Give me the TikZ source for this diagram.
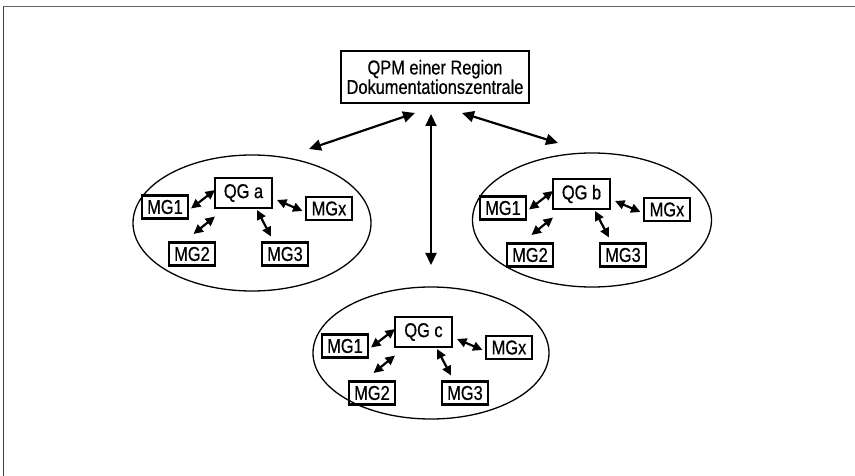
\documentclass[tikz,border=0pt]{standalone}
\usepackage{fontspec}
\setmainfont{Liberation Sans}[FakeStretch=0.82,FakeBold=0.6]
\usetikzlibrary{arrows.meta,shapes.geometric}
\begin{document}
\begin{tikzpicture}[x=1pt,y=-1pt,
  every node/.style={font=\fontsize{20}{19.5}\selectfont},
  topbox/.style={draw, line width=1.4pt, minimum width=188pt, minimum height=52pt, align=center, inner sep=0pt},
  qgbox/.style={draw, line width=2.4pt, minimum width=57pt, minimum height=30pt, inner sep=0pt},
  mgbox/.style={draw, line width=2.4pt, minimum width=46pt, minimum height=23pt, inner sep=0pt},
  group/.style={draw, ellipse, line width=1.3pt, inner sep=0pt},
  bigarrow/.style={line width=2.2pt, {Triangle[length=12pt,width=11pt]}-{Triangle[length=12pt,width=11pt]}},
  smallarrow/.style={line width=2.2pt, {Triangle[length=9.5pt,width=9pt]}-{Triangle[length=9.5pt,width=9pt]}},
  frameline/.style={line width=1.5pt, draw=black!75},
]
\useasboundingbox (0,0) rectangle (855,476);
% page frame (top and left edges only)
\coordinate (fbl) at (3.5,476);
\coordinate (ftl) at (3.5,6.5);
\coordinate (ftr) at (855,6.5);
\draw[frameline] (fbl) -- (ftl);
\draw[frameline, draw=black!60] (ftl) -- (ftr);

% top box
\node[topbox] (top) at (435,77) {QPM einer Region\\Dokumentationszentrale};

% groups
\node[group, minimum width=238pt, minimum height=136pt] (ea) at (252,223) {};
\node[group, minimum width=239pt, minimum height=134pt] (eb) at (592,220) {};
\node[group, minimum width=236pt, minimum height=132pt] (ec) at (431,353) {};

% main arrows
\coordinate (l1) at (415,113);
\coordinate (l2) at (309,149);
\coordinate (m1) at (431,114);
\coordinate (m2) at (431,265);
\coordinate (r1) at (462,113);
\coordinate (r2) at (558,143);
\draw[bigarrow] (l1) -- (l2);
\draw[bigarrow] (m1) -- (m2);
\draw[bigarrow] (r1) -- (r2);

% clusters
\foreach \p/\dx/\dy in {a/0/0, b/338/1, c/180/139}{
  \begin{scope}[shift={(\dx,\dy)}]
    \node[qgbox] (q\p) at (243.5,193) {QG \p};
    \node[mgbox] (\p m1) at (165,207) {MG1};
    \node[mgbox] (\p mx) at (329,208.5) {MGx};
    \node[mgbox] (\p m2) at (192,254) {MG2};
    \node[mgbox] (\p m3) at (285,254) {MG3};
    \coordinate (\p a1) at (215,190);
    \coordinate (\p b1) at (191,208.5);
    \coordinate (\p a2) at (215,216.5);
    \coordinate (\p b2) at (193.5,234);
    \coordinate (\p a3) at (257,210);
    \coordinate (\p b3) at (271,236.5);
    \coordinate (\p ax) at (277,200);
    \coordinate (\p bx) at (302.5,211);
    \draw[smallarrow] (\p a1) -- (\p b1);
    \draw[smallarrow] (\p a2) -- (\p b2);
    \draw[smallarrow] (\p a3) -- (\p b3);
    \draw[smallarrow] (\p ax) -- (\p bx);
  \end{scope}
}
\end{tikzpicture}
\end{document}
